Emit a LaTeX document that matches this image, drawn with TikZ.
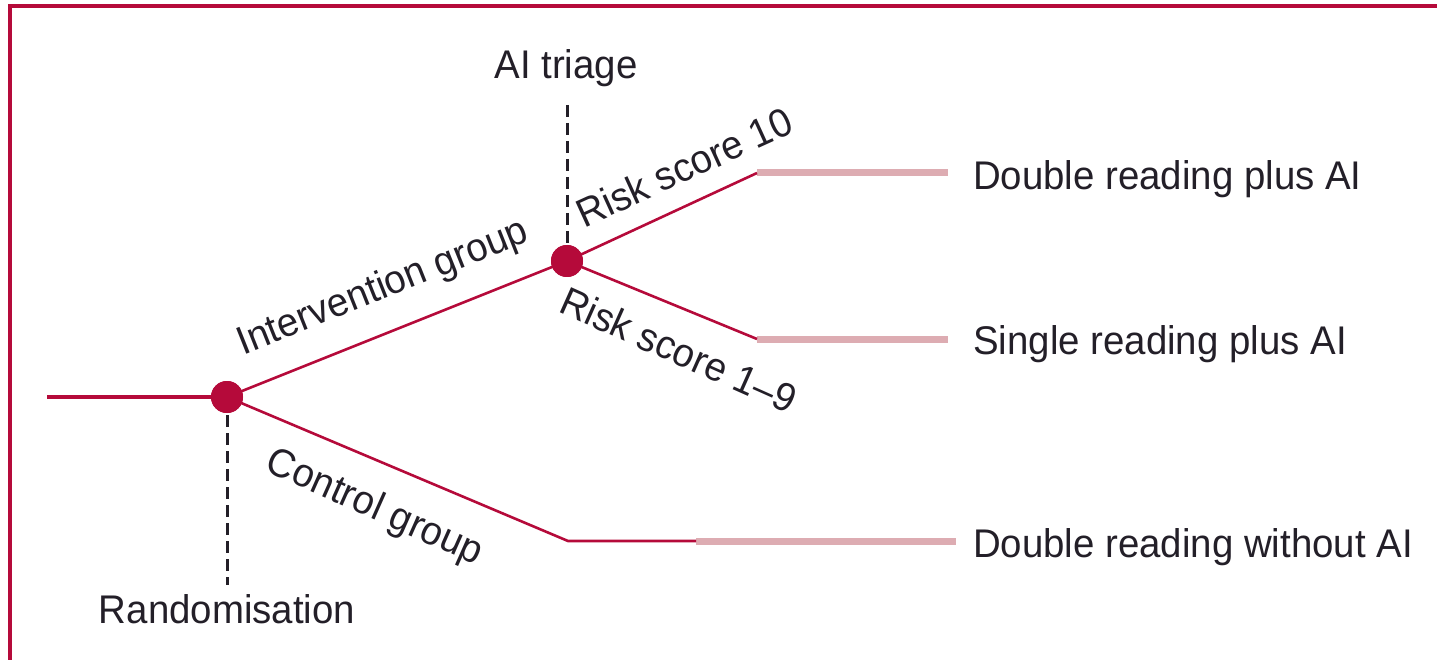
\documentclass[tikz,border=0pt]{standalone}
\usepackage{fontspec}
\setmainfont{Liberation Sans}[FakeStretch=0.96]
\usetikzlibrary{calc}
\definecolor{lancetred}{RGB}{181,10,58}
\definecolor{tailpink}{RGB}{221,172,178}
\definecolor{inkdark}{RGB}{35,31,40}
\tikzset{
  branch/.style={draw=lancetred, line width=2.6pt},
  tail/.style={draw=tailpink, line width=7pt},
  splitdot/.style={circle, fill=lancetred, inner sep=0pt, minimum size=32pt},
  guide/.style={draw=inkdark, line width=3pt, dash pattern=on 12pt off 6pt},
  lbl/.style={text=inkdark, font=\fontsize{40}{44}\selectfont, inner sep=0pt},
}
\begin{document}
\begin{tikzpicture}[x=1pt, y=-1pt]
  \useasboundingbox (0,0) rectangle (1437,660);
  % frame: top and left rules only
  \draw[lancetred, line width=4pt] (10,660) -- (10,6) -- (1437,6);

  % split points and path coordinates
  \node[splitdot] (rand) at (227,397) {};
  \node[splitdot] (tri) at (567,261) {};
  \coordinate (in) at (47,397);
  \coordinate (ub) at (757,173);
  \coordinate (ue) at (948,173);
  \coordinate (lb) at (757,339);
  \coordinate (le) at (948,339);
  \coordinate (cb) at (568,541);
  \coordinate (cm) at (696,541);
  \coordinate (ce) at (956,541);
  \coordinate (rdash) at (227,585);
  \coordinate (tdash) at (567,105);

  % outcome labels
  \node[lbl, anchor=base west] (dpa) at (973,190) {Double reading plus AI};
  \node[lbl, anchor=base west] (spa) at (973,354) {Single reading plus AI};
  \node[lbl, anchor=base west] (dwa) at (973,557) {Double reading without AI};
  \node[lbl, anchor=base] (trilbl) at (566,79) {AI triage};
  \node[lbl, anchor=base] (randlbl) at (227,623) {Randomisation};

  % pale tails toward the outcomes
  \draw[tail] (ub) -- (ue);
  \draw[tail] (lb) -- (le);
  \draw[tail] (cm) -- (ce);

  % dashed guides
  \draw[guide] (rand.center) -- (rdash);
  \draw[guide] (tdash) -- (tri.center);

  % branches
  \draw[branch, line width=3.2pt] (in) -- (rand.center);
  \draw[branch] (rand.center) -- (tri.center);
  \draw[branch] (tri.center) -- (ub);
  \draw[branch] (tri.center) -- (lb);
  \draw[branch, line join=round] (rand.center) -- (cb) -- (cm);

  % dots drawn over the line ends
  \node[splitdot] at (rand) {};
  \node[splitdot] at (tri) {};

  % branch labels
  \node[lbl, anchor=base, rotate=21.7] (intl) at (387,298) {Intervention group};
  \node[lbl, anchor=base, rotate=24.5] (r10) at (690,180) {Risk score 10};
  \node[lbl, anchor=base, rotate=-24] (r19) at (673,363) {Risk score 1–9};
  \node[lbl, anchor=base, rotate=-24] (ctl) at (370,518) {Control group};
\end{tikzpicture}
\end{document}
